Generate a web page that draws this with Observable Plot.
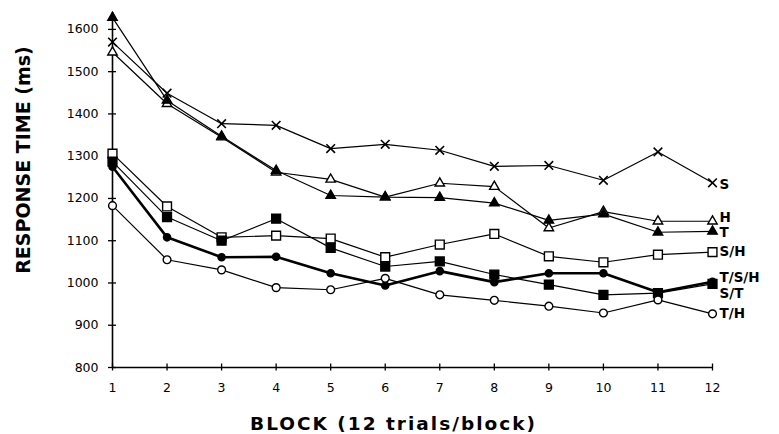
<!DOCTYPE html>
<html>
<head>
<meta charset="utf-8">
<script src="https://cdn.jsdelivr.net/npm/d3@7"></script>
<script src="https://cdn.jsdelivr.net/npm/@observablehq/plot@0.6"></script>
<style>
  html, body { margin: 0; padding: 0; background: #fff; }
  #chart svg { display: block; }
</style>
</head>
<body>
<div id="chart"></div>
<script>
// ---- data ----
const blocks = [1, 2, 3, 4, 5, 6, 7, 8, 9, 10, 11, 12];
const seriesNames = ["S", "H", "T", "S/H", "T/S/H", "S/T", "T/H"];
const valuesS   = [1570, 1449, 1377, 1373, 1318, 1328, 1314, 1276, 1278, 1243, 1310, 1237];
const valuesH   = [1546, 1424, 1345, 1262, 1245, 1203, 1236, 1228, 1130, 1169, 1146, 1146];
const valuesT   = [1628, 1432, 1347, 1266, 1207, 1203, 1202, 1189, 1148, 1163, 1120, 1122];
const valuesSH  = [1306, 1181, 1108, 1112, 1105, 1061, 1091, 1116, 1063, 1049, 1067, 1073];
const valuesTSH = [1275, 1108, 1061, 1062, 1023, 994, 1028, 1002, 1023, 1023, 978, 1003];
const valuesST  = [1287, 1156, 1100, 1152, 1083, 1039, 1051, 1020, 996, 972, 976, 998];
const valuesTH  = [1183, 1055, 1031, 989, 984, 1011, 972, 959, 945, 929, 960, 927];
const yTicks = [800, 900, 1000, 1100, 1200, 1300, 1400, 1500, 1600];
const xTicks = blocks;
const yLabel = "RESPONSE TIME (ms)";
const xLabel = "BLOCK (12 trials/block)";

// ---- build table ----
const seriesValues = [valuesS, valuesH, valuesT, valuesSH, valuesTSH, valuesST, valuesTH];
const rows = [];
seriesNames.forEach((name, i) => {
  blocks.forEach((b, j) => rows.push({series: name, block: b, rt: seriesValues[i][j]}));
});
const lastRows = seriesNames.map((name, i) => ({series: name, block: 12, rt: seriesValues[i][11]}));

// ---- styles ----
const symbolOf = {"S": "times", "H": "triangle", "T": "triangle", "S/H": "square", "T/S/H": "circle", "S/T": "square", "T/H": "circle"};
const filledOf = {"S": false, "H": false, "T": true, "S/H": false, "T/S/H": true, "S/T": true, "T/H": false};
const rOf = {"S": 4.0, "H": 3.5, "T": 3.5, "S/H": 5.0, "T/S/H": 3.6, "S/T": 5.0, "T/H": 3.9};
const labelDy = {"S": 1.5, "H": -4, "T": 1.5, "S/H": 0, "T/S/H": -4, "S/T": 10, "T/H": 0};

const font = "'DejaVu Sans', sans-serif";
const fmt = d3.format("d");

const markMarks = seriesNames.map(name => Plot.dot(rows.filter(d => d.series === name), {
  x: "block", y: "rt",
  symbol: () => symbolOf[name],
  r: rOf[name],
  fill: name === "S" ? "none" : (filledOf[name] ? "black" : "white"),
  stroke: "black",
  strokeWidth: name === "S" ? 1.6 : 1.4
}));

const chart = Plot.plot({
  width: 779,
  height: 434,
  marginLeft: 112,
  marginRight: 67,
  marginTop: 12,
  marginBottom: 67,
  style: {fontFamily: font, fontSize: "12.5px", color: "black", background: "white"},
  x: {domain: [1, 12], label: null},
  y: {domain: [800, 1640], label: null},
  marks: [
    // axis lines
    Plot.ruleX([1], {stroke: "black", strokeWidth: 1.6}),
    Plot.ruleY([800], {stroke: "black", strokeWidth: 1.6}),
    // crossing ticks
    Plot.axisY(yTicks, {tickSize: 8, dx: 4, text: null, label: null, strokeWidth: 1.3}),
    Plot.axisX(xTicks, {tickSize: 7, dy: -3.5, text: null, label: null, strokeWidth: 1.3}),
    // tick labels
    Plot.axisY(yTicks, {tickSize: 0, tickPadding: 14, label: null, tickFormat: fmt, fontSize: 12.5}),
    Plot.axisX(xTicks, {tickSize: 0, tickPadding: 16, label: null, tickFormat: fmt, fontSize: 12.5}),
    // lines
    ...seriesNames.map(name => Plot.line(rows.filter(d => d.series === name), {
      x: "block", y: "rt", stroke: "black",
      strokeWidth: name === "T/S/H" ? 2.6 : 1.2
    })),
    // markers
    ...markMarks,
    // series labels
    ...seriesNames.map(name => Plot.text(lastRows.filter(d => d.series === name), {
      x: "block", y: "rt", text: "series",
      dx: 7, dy: labelDy[name], textAnchor: "start",
      fontFamily: font, fontWeight: "bold", fontSize: 13.5
    })),
    // axis titles
    Plot.text([xLabel], {frameAnchor: "bottom", dy: 57, dx: -19, textAnchor: "middle", lineAnchor: "middle", fontFamily: font, fontWeight: "bold", fontSize: 18.5}),
    Plot.text([yLabel], {frameAnchor: "left", dx: -89, dy: -30, rotate: -90, textAnchor: "middle", lineAnchor: "middle", fontFamily: font, fontWeight: "bold", fontSize: 19})
  ]
});
// widen the x-axis title's letter spacing
d3.select(chart).selectAll("text")
  .filter(function () { return this.textContent === xLabel; })
  .attr("letter-spacing", "2px");
document.getElementById("chart").append(chart);
</script>
</body>
</html>
